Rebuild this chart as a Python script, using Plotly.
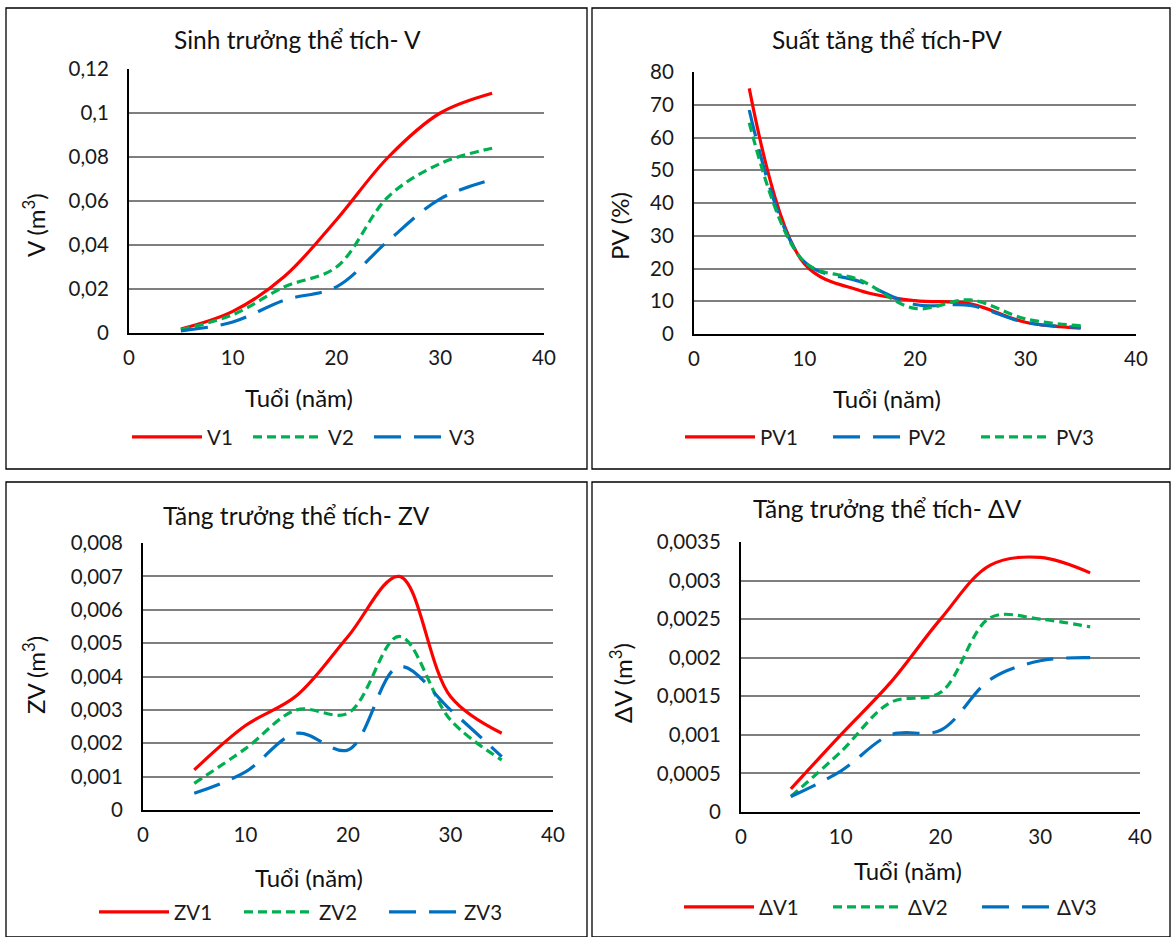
import plotly.graph_objects as go

ages = [5, 10, 15, 20, 25, 30, 35]

V1 = [0.0018, 0.0098, 0.0258, 0.0515, 0.080, 0.100, 0.109]
V2 = [0.0015, 0.0083, 0.021, 0.030, 0.062, 0.077, 0.084]
V3 = [0.0010, 0.0050, 0.015, 0.021, 0.042, 0.061, 0.0697]

PV1 = [75, 21.4, 13.3, 10.2, 9.2, 3.6, 1.8]
PV2 = [68.4, 22, 16, 9, 8.7, 3.5, 2]
PV3 = [64.5, 22, 16.5, 7.8, 10.4, 4.6, 2.5]

ZV1 = [0.0012, 0.00253, 0.00343, 0.0052, 0.0070, 0.0034, 0.0023]
ZV2 = [0.0008, 0.00184, 0.0030, 0.0029, 0.0052, 0.0027, 0.0015]
ZV3 = [0.0005, 0.00114, 0.0023, 0.0018, 0.0043, 0.0030, 0.0016]

DV1 = [0.0003, 0.0010, 0.00168, 0.0025, 0.0032, 0.0033, 0.0031]
DV2 = [0.0002, 0.00078, 0.00142, 0.00155, 0.00252, 0.0025, 0.0024]
DV3 = [0.0002, 0.00053, 0.0010, 0.00106, 0.00172, 0.00196, 0.0020]

titles = ["Sinh trưởng thể tích- V", "Suất tăng thể tích-PV",
          "Tăng trưởng thể tích- ZV", "Tăng trưởng thể tích- ΔV"]
ytitles = ["V (m<sup>3</sup>)", "PV (%)", "ZV (m<sup>3</sup>)", "ΔV (m<sup>3</sup>)"]
xtitle = "Tuổi (năm)"

W, H = 1172, 937
FONT = "Lato"
RED = "#FF0000"
GREEN = "#00B050"
BLUE = "#0070C0"
DASH_G = "9px,5px"
DASH_B = "27px,13px"


def fx(px):
    return px / W


def fy(py):
    return 1 - py / H


fig = go.Figure()

panels = [
    dict(l=129, r=544, t=69, b=333),
    dict(l=694, r=1136, t=72, b=334),
    dict(l=143, r=553, t=543, b=810),
    dict(l=741, r=1140, t=542, b=812),
]

series = [
    [("V1", V1, RED, "solid"), ("V2", V2, GREEN, DASH_G), ("V3", V3, BLUE, DASH_B)],
    [("PV1", PV1, RED, "solid"), ("PV2", PV2, BLUE, DASH_B), ("PV3", PV3, GREEN, DASH_G)],
    [("ZV1", ZV1, RED, "solid"), ("ZV2", ZV2, GREEN, DASH_G), ("ZV3", ZV3, BLUE, DASH_B)],
    [("ΔV1", DV1, RED, "solid"), ("ΔV2", DV2, GREEN, DASH_G), ("ΔV3", DV3, BLUE, DASH_B)],
]

yranges = [(0, 0.12, 0.02), (0, 80, 10), (0, 0.008, 0.001), (0, 0.0035, 0.0005)]
legend_y = [437, 437, 912, 907]
legend_x = [127, 680, 94, 679]
legend_w = [36, 63, 60, 64]
title_pos = [(297, 40), (887, 40), (296, 515), (887, 508)]
xtitle_pos = [(299, 397), (887, 398), (309, 877), (908, 870)]
ytitle_pos = [(34, 225), (619, 226), (34, 675), (621, 683)]

layout = dict(
    width=W, height=H,
    margin=dict(l=0, r=0, t=0, b=0, autoexpand=False),
    paper_bgcolor="white", plot_bgcolor="white",
    separators=", ",
    font=dict(family=FONT, size=18, color="#222"),
    showlegend=True,
)

annotations = []
shapes = []

for i, p in enumerate(panels):
    k = "" if i == 0 else str(i + 1)
    xa = "x" + k
    ya = "y" + k
    lg = "legend" + k
    for name, vals, col, dash in series[i]:
        fig.add_trace(go.Scatter(
            x=ages, y=vals, name=name, mode="lines",
            line=dict(color=col, width=3.2, dash=dash, shape="spline", smoothing=1.0),
            xaxis=xa, yaxis=ya, legend=lg,
        ))
    y0, y1, dy = yranges[i]
    layout["xaxis" + k] = dict(
        domain=[fx(p["l"]), fx(p["r"])], range=[0, 40], tickvals=[0, 10, 20, 30, 40],
        showgrid=False, zeroline=False, showline=True, linecolor="#000", linewidth=2,
        ticks="", ticklabelstandoff=5, anchor=ya, fixedrange=True,
        tickfont=dict(size=20.5, family=FONT, color="#1a1a1a"),
    )
    layout["yaxis" + k] = dict(
        domain=[fy(p["b"]), fy(p["t"])], range=[y0, y1], dtick=dy, tick0=0,
        showgrid=True, gridcolor="#7F7F7F", gridwidth=2,
        zeroline=False, showline=True, linecolor="#000", linewidth=2,
        ticks="", ticklabelstandoff=14, anchor=xa, fixedrange=True,
        tickfont=dict(size=20.5, family=FONT, color="#1a1a1a"),
    )
    layout[lg] = dict(
        orientation="h", x=fx(legend_x[i]), y=fy(legend_y[i]),
        xanchor="left", yanchor="middle",
        font=dict(size=20.5, family=FONT, color="#1a1a1a"),
        bgcolor="rgba(0,0,0,0)", entrywidth=legend_w[i], entrywidthmode="pixels",
        itemwidth=70, tracegroupgap=0,
    )
    tx, ty = title_pos[i]
    annotations.append(dict(text=titles[i], x=fx(tx), y=fy(ty), xref="paper", yref="paper",
                            showarrow=False, xanchor="center", yanchor="middle",
                            font=dict(size=24.5, family=FONT, color="#111")))
    ax_, ay_ = xtitle_pos[i]
    annotations.append(dict(text=xtitle, x=fx(ax_), y=fy(ay_), xref="paper", yref="paper",
                            showarrow=False, xanchor="center", yanchor="middle",
                            font=dict(size=24, family=FONT, color="#111")))
    yx, yy = ytitle_pos[i]
    annotations.append(dict(text=ytitles[i], x=fx(yx), y=fy(yy),
                            xref="paper", yref="paper", showarrow=False, textangle=-90,
                            xanchor="center", yanchor="middle",
                            font=dict(size=24, family=FONT, color="#111")))

frames = [(6, 8, 587, 469), (592, 8, 1170, 469), (6, 482, 587, 937), (592, 482, 1170, 937)]
for (x0, y0p, x1, y1p) in frames:
    shapes.append(dict(type="rect", xref="paper", yref="paper",
                       x0=fx(x0), x1=fx(x1), y0=fy(y1p), y1=fy(y0p),
                       line=dict(color="#000", width=1.3), fillcolor="rgba(0,0,0,0)"))

layout["annotations"] = annotations
layout["shapes"] = shapes
fig.update_layout(**layout)

fig.write_html("out.html", config={"displayModeBar": False},
               post_script="document.body.style.margin='0px';")
